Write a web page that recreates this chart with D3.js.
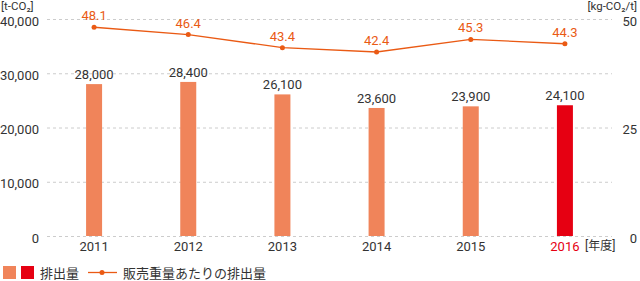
<!DOCTYPE html>
<html><head><meta charset="utf-8">
<script src="https://cdn.jsdelivr.net/npm/d3@7"></script>
<style>body{margin:0;background:#fff}svg{display:block}text{font-family:Roboto,"Noto Sans CJK JP",sans-serif}</style>
</head><body><svg id="c" width="640" height="281"></svg>
<script>
const years = ["2011","2012","2013","2014","2015","2016"];
const emissions = [28000,28400,26100,23600,23900,24100];
const intensity = [48.1,46.4,43.4,42.4,45.3,44.3];
const leftTicks = [0,10000,20000,30000,40000];
const rightTicks = [0,25,50];

const svg = d3.select("#c");
const x0 = 47, x1 = 612, yTop = 19, yBot = 236;
const x = d3.scaleBand().domain(years).range([x0,x1]);
const yL = d3.scaleLinear().domain([0,40000]).range([yBot,yTop]);
const yR = d3.scaleLinear().domain([0,50]).range([yBot,yTop]);
const barW = 16;
const dark = "#333", barC = "#f0845a", hiC = "#e60012", lineC = "#ea5a14";

// grid
svg.append("g").selectAll("line").data(leftTicks).join("line")
  .attr("x1",x0).attr("x2",x1).attr("y1",d=>yL(d)+0.5).attr("y2",d=>yL(d)+0.5)
  .attr("stroke","#cccccc").attr("stroke-dasharray","3,3");

// left axis
const gl = svg.append("g").attr("transform",`translate(39,2)`)
  .call(d3.axisLeft(yL).tickValues(leftTicks).tickSize(0).tickPadding(0).tickFormat(d3.format(",")));
gl.select(".domain").remove();
gl.selectAll("text").attr("font-size",13).attr("fill",dark).attr("font-family","Roboto");

// right axis
const gr = svg.append("g").attr("transform",`translate(637,2)`)
  .call(d3.axisLeft(yR).tickValues(rightTicks).tickSize(0).tickPadding(0));
gr.select(".domain").remove();
gr.selectAll("text").attr("font-size",13).attr("fill",dark).attr("font-family","Roboto");

// bottom axis
const gb = svg.append("g").attr("transform",`translate(0,${yBot})`)
  .call(d3.axisBottom(x).tickSize(0).tickPadding(6));
gb.select(".domain").remove();
gb.selectAll("text").attr("font-size",13).attr("font-family","Roboto")
  .attr("fill",(d,i)=>i===years.length-1?hiC:dark);

// unit labels
svg.append("text").attr("x",1).attr("y",10).attr("font-size",11.5).attr("fill",dark).text("[t-CO₂]");
svg.append("text").attr("x",637).attr("y",10).attr("text-anchor","end").attr("font-size",11.5).attr("fill",dark).text("[kg-CO₂/t]");
svg.append("text").attr("x",585).attr("y",250).attr("font-size",12).attr("fill",dark).text("[年度]");

// bars
svg.append("g").selectAll("rect").data(years).join("rect")
  .attr("x",d=>x(d)+x.bandwidth()/2-barW/2).attr("width",barW)
  .attr("y",(d,i)=>yL(emissions[i])).attr("height",(d,i)=>yBot-yL(emissions[i]))
  .attr("fill",(d,i)=>i===years.length-1?hiC:barC);
svg.append("g").selectAll("text").data(years).join("text")
  .attr("x",d=>x(d)+x.bandwidth()/2).attr("y",(d,i)=>yL(emissions[i])-5)
  .attr("text-anchor","middle").attr("font-size",13).attr("fill",dark)
  .text((d,i)=>d3.format(",")(emissions[i]));

// line
const pts = years.map((d,i)=>[x(d)+x.bandwidth()/2, yR(intensity[i])]);
svg.append("path").attr("d",d3.line()(pts)).attr("fill","none").attr("stroke",lineC).attr("stroke-width",1.3);
svg.append("g").selectAll("circle").data(pts).join("circle")
  .attr("cx",d=>d[0]).attr("cy",d=>d[1]).attr("r",2.5).attr("fill",lineC);
svg.append("g").selectAll("text").data(pts).join("text")
  .attr("x",d=>d[0]).attr("y",d=>d[1]-7).attr("text-anchor","middle")
  .attr("font-size",13).attr("fill",lineC).text((d,i)=>intensity[i].toFixed(1));

// legend
const lg = svg.append("g");
lg.append("rect").attr("x",3).attr("y",266).attr("width",13).attr("height",13).attr("fill",barC);
lg.append("rect").attr("x",21).attr("y",266).attr("width",13).attr("height",13).attr("fill",hiC);
lg.append("text").attr("x",40).attr("y",278).attr("font-size",13).attr("fill",dark).text("排出量");
lg.append("line").attr("x1",88).attr("x2",117).attr("y1",272.5).attr("y2",272.5).attr("stroke",lineC).attr("stroke-width",1.3);
lg.append("circle").attr("cx",102).attr("cy",272.5).attr("r",2.5).attr("fill",lineC);
lg.append("text").attr("x",123).attr("y",278).attr("font-size",13).attr("fill",dark).text("販売重量あたりの排出量");
</script></body></html>
